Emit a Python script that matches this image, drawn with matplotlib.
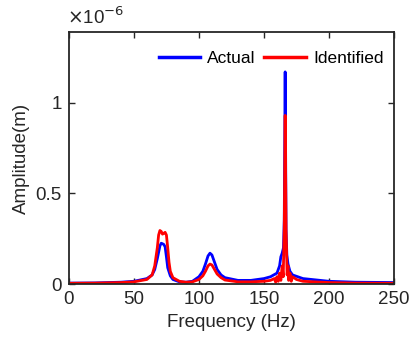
import matplotlib
matplotlib.use("Agg")
import matplotlib.pyplot as plt

# Frequencies (Hz) and amplitudes (x1e-6 m)
freq_actual = [0, 20, 40, 50, 60, 64, 66, 68, 70, 71, 72, 73, 74, 75, 76, 78, 80, 85, 90,
               95, 100, 103, 105, 107, 108.5, 110, 112, 114, 117, 120, 130, 140, 150, 155,
               160, 162, 163, 164, 165, 165.6, 166.3, 167, 167.6, 168.5, 170, 172, 180,
               200, 220, 250]
amp_actual = [0.005, 0.006, 0.010, 0.015, 0.030, 0.050, 0.080, 0.140, 0.210, 0.225, 0.222,
              0.218, 0.205, 0.150, 0.090, 0.045, 0.025, 0.012, 0.010,
              0.015, 0.040, 0.070, 0.110, 0.155, 0.170, 0.160, 0.120, 0.080, 0.050, 0.035,
              0.020, 0.020, 0.030, 0.040,
              0.060, 0.100, 0.150, 0.170, 0.200, 0.350, 1.170, 0.300, 0.160, 0.110, 0.070,
              0.050, 0.030, 0.015, 0.010, 0.008]

freq_ident = [0, 20, 40, 50, 60, 64, 66, 68, 69, 70, 71, 72, 73, 74, 75, 76, 77, 78, 80, 85,
              90, 95, 100, 103, 105, 107, 108.5, 110, 112, 114, 117, 120, 130, 140, 150,
              155, 158, 159, 160, 161, 162, 163, 164, 164.8, 165.6, 166.3, 167, 167.8,
              168.5, 169, 170, 171, 172, 175, 180, 200, 220, 250]
amp_ident = [0.004, 0.005, 0.008, 0.012, 0.025, 0.050, 0.100, 0.200, 0.270, 0.295, 0.290,
             0.275, 0.280, 0.285, 0.270, 0.200, 0.120, 0.070, 0.035, 0.015,
             0.010, 0.012, 0.025, 0.045, 0.070, 0.100, 0.110, 0.105, 0.080, 0.055, 0.035,
             0.022, 0.012, 0.012, 0.015,
             0.020, 0.030, 0.010, 0.040, 0.015, 0.060, 0.020, 0.100, 0.040, 0.300, 0.930,
             0.300, 0.050, 0.100, 0.020, 0.060, 0.015, 0.040, 0.025, 0.015, 0.008, 0.005,
             0.004]

xticks = [0, 50, 100, 150, 200, 250]
yticks = [0, 0.5, 1]
ytick_labels = ["0", "0.5", "1"]

plt.rcParams['font.family'] = ['Liberation Sans', 'DejaVu Sans']
fs = 13.5

fig = plt.figure(figsize=(4.10, 3.44), dpi=100)
ax = fig.add_axes([0.168, 0.1744, 0.793, 0.7326])

ax.plot(freq_actual, amp_actual, color='#0000ff', lw=2.0, label='Actual')
ax.plot(freq_ident, amp_ident, color='#ff0000', lw=2.0, label='Identified')

ax.set_xlim(0, 250)
ax.set_ylim(0, 1.39)
ax.set_xticks(xticks)
ax.set_xticklabels([str(t) for t in xticks])
ax.set_yticks(yticks)
ax.set_yticklabels(ytick_labels)
ax.tick_params(direction='in', top=True, right=True, length=4, width=1.0,
               labelsize=fs, colors='#262626', pad=5)
for sp in ax.spines.values():
    sp.set_linewidth(1.3)
    sp.set_color('#262626')

ax.set_xlabel('Frequency (Hz)', fontsize=fs, color='#262626', labelpad=4)
ax.set_ylabel('Amplitude(m)', fontsize=fs, color='#262626', labelpad=4)

ax.text(-0.005, 1.015, '$\\times$10$^{-6}$', transform=ax.transAxes, fontsize=fs,
        color='#262626', ha='left', va='bottom')

leg = ax.legend(loc='upper right', ncol=2, frameon=False, fontsize=12.5,
                handlelength=2.4, handletextpad=0.4, columnspacing=0.5,
                borderaxespad=0.2, bbox_to_anchor=(1.0, 0.965))
for line in leg.get_lines():
    line.set_linewidth(2.5)

fig.savefig('out.png', dpi=100)
